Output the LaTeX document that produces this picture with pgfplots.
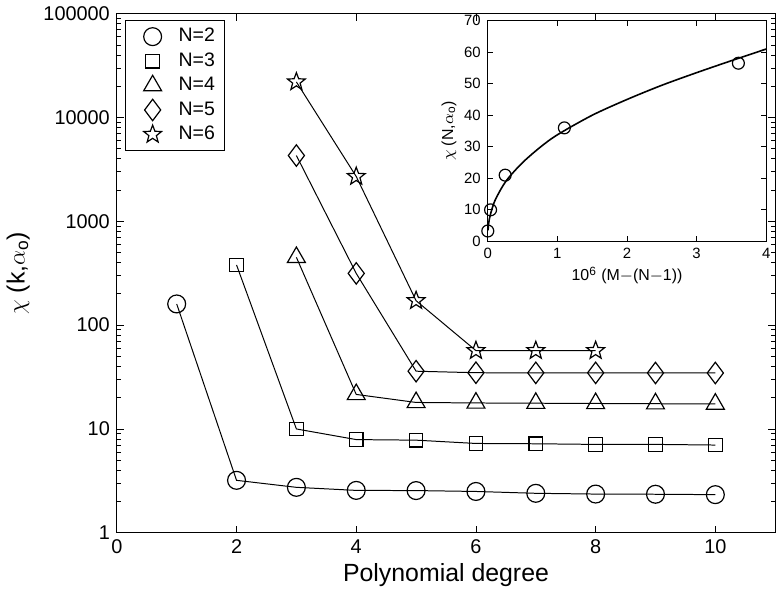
\documentclass[border=0pt]{standalone}
\usepackage{fontspec}
\setmainfont{Liberation Sans}
\usepackage{pgfplots}
\pgfplotsset{compat=1.18}
\pgfdeclareplotmark{fstar}{%
  \pgfpathmoveto{\pgfpointpolar{90}{\pgfplotmarksize}}%
  \pgfpathlineto{\pgfpointpolar{126}{.42\pgfplotmarksize}}%
  \pgfpathlineto{\pgfpointpolar{162}{\pgfplotmarksize}}%
  \pgfpathlineto{\pgfpointpolar{198}{.42\pgfplotmarksize}}%
  \pgfpathlineto{\pgfpointpolar{234}{\pgfplotmarksize}}%
  \pgfpathlineto{\pgfpointpolar{270}{.42\pgfplotmarksize}}%
  \pgfpathlineto{\pgfpointpolar{306}{\pgfplotmarksize}}%
  \pgfpathlineto{\pgfpointpolar{342}{.42\pgfplotmarksize}}%
  \pgfpathlineto{\pgfpointpolar{18}{\pgfplotmarksize}}%
  \pgfpathlineto{\pgfpointpolar{54}{.42\pgfplotmarksize}}%
  \pgfpathclose
  \pgfusepathqstroke}
\begin{document}
\begin{tikzpicture}
\begin{axis}[
 scale only axis,
 width=331pt, height=261pt,
 ymode=log,
 xmin=0, xmax=11, ymin=1, ymax=100000,
 xtick={0,2,4,6,8,10},
 ytick={1,10,100,1000,10000,100000},
 yticklabels={1,10,100,1000,10000,100000},
 tick align=inside,
 major tick length=3.5pt, minor tick length=2pt,
 tick style={black, line width=0.4pt},
 axis line style={line width=0.6pt},
 /pgf/number format/assume math mode=true,
 tick label style={font=\fontsize{10}{12}\selectfont},
 xlabel={Polynomial degree},
 ylabel={$\chi$ (k,$\alpha_{\mathrm o}$)},
 label style={font=\fontsize{12.5}{14}\selectfont},
 xlabel style={yshift=2pt},
 every axis plot/.append style={black, line width=0.5pt, mark options={solid, line width=0.6pt}},
 legend image code/.code={\path (0,0) (0.75cm,0); \draw[#1] plot coordinates {(0.37cm,0cm)};},
 legend style={at={(0.012,0.988)}, anchor=north west, draw=black, line width=0.5pt,
   font=\fontsize{9.8}{11}\selectfont, row sep=0pt, inner xsep=3pt, inner ysep=2pt,
   /tikz/every odd column/.append style={column sep=0pt}},
 legend cell align=left,
]
\addplot[mark=o, mark size=4.5pt, forget plot] coordinates {
 (1,160) (2,3.2) (3,2.74) (4,2.56) (5,2.55) (6,2.5) (7,2.4) (8,2.36) (9,2.35) (10,2.33)};
\addplot[mark=square, mark size=3.4pt, forget plot] coordinates {
 (2,380) (3,10) (4,7.9) (5,7.8) (6,7.25) (7,7.2) (8,7.1) (9,7.1) (10,7.0)};
\addplot[mark=triangle, mark size=5.2pt, forget plot] coordinates {
 (3,450) (4,21.5) (5,18) (6,17.8) (7,17.7) (8,17.6) (9,17.5) (10,17.4)};
\addplot[mark=diamond, mark size=5.4pt, forget plot] coordinates {
 (3,4300) (4,315) (5,36) (6,34.8) (7,34.7) (8,34.7) (9,34.6) (10,34.6)};
\addplot[mark=fstar, mark size=4.7pt, forget plot] coordinates {
 (3,22000) (4,2700) (5,172) (6,56.8) (7,56.8) (8,56.8)};
\addlegendimage{only marks, black, mark=o, mark size=4.5pt, mark options={line width=0.6pt}}
\addlegendentry{N=2}
\addlegendimage{only marks, black, mark=square, mark size=3.4pt, mark options={line width=0.6pt}}
\addlegendentry{N=3}
\addlegendimage{only marks, black, mark=triangle, mark size=5.2pt, mark options={line width=0.6pt}}
\addlegendentry{N=4}
\addlegendimage{only marks, black, mark=diamond, mark size=5.4pt, mark options={line width=0.6pt}}
\addlegendentry{N=5}
\addlegendimage{only marks, black, mark=fstar, mark size=4.7pt, mark options={line width=0.6pt}}
\addlegendentry{N=6}
\end{axis}
\begin{axis}[
 at={(186.5pt,146.5pt)}, anchor=south west,
 scale only axis, width=140pt, height=111pt,
 xmin=0, xmax=4, ymin=0, ymax=70,
 xtick={0,1,2,3,4}, ytick={0,10,...,70},
 tick align=inside,
 major tick length=2.5pt,
 tick style={black, line width=0.4pt},
 axis line style={line width=0.5pt},
 /pgf/number format/assume math mode=true,
 tick label style={font=\fontsize{7.5}{9}\selectfont},
 xlabel={10\textsuperscript{6} (M$-$(N$-$1))},
 ylabel={$\chi$ (N,$\alpha_{\mathrm o}$)},
 label style={font=\fontsize{8}{9}\selectfont},
 xlabel style={yshift=3pt},
 ylabel style={yshift=-3pt},
 axis background/.style={fill=white},
]
\addplot[black, line width=0.8pt, smooth] coordinates {
 (0.003,3.5) (0.01,5) (0.02,6.8) (0.05,9.5) (0.1,12.8) (0.2,17) (0.3,20.2) (0.5,25) (0.75,29.8) (1,33.8)
 (1.5,40) (2,45) (2.5,49.5) (3,53.5) (3.5,57.3) (4,61)};
\addplot[only marks, black, mark=o, mark size=3pt, mark options={line width=0.6pt}] coordinates {
 (0,3.3) (0.04,10) (0.25,21) (1.1,36) (3.6,56.5)};
\end{axis}
\end{tikzpicture}
\end{document}
